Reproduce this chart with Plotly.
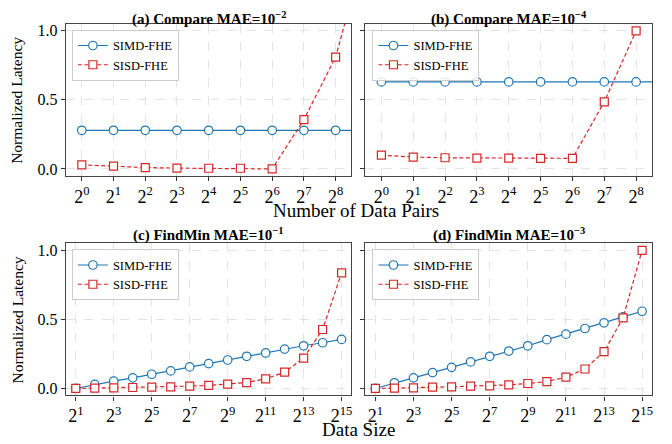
import plotly.graph_objects as go

# ---------------- data ----------------
pairs_exp = [0, 1, 2, 3, 4, 5, 6, 7, 8]
pairs_exp_ext = [0, 1, 2, 3, 4, 5, 6, 7, 8, 9]
a_simd = [0.28, 0.28, 0.28, 0.28, 0.28, 0.28, 0.28, 0.28, 0.28, 0.28]
a_sisd = [0.03, 0.02, 0.01, 0.006, 0.005, 0.005, 0.0, 0.357, 0.81, 1.65]
b_simd = [0.63, 0.63, 0.63, 0.63, 0.63, 0.63, 0.63, 0.63, 0.63, 0.63]
b_sisd = [0.10, 0.086, 0.081, 0.079, 0.079, 0.077, 0.077, 0.486, 1.0]

size_exp = list(range(1, 16))
c_simd = [0.0, 0.029, 0.053, 0.077, 0.103, 0.127, 0.156, 0.18, 0.206, 0.233,
          0.257, 0.285, 0.309, 0.331, 0.355]
c_sisd = [0.0, 0.002, 0.005, 0.007, 0.01, 0.012, 0.017, 0.022, 0.031, 0.043,
          0.07, 0.118, 0.22, 0.427, 0.837]
d_simd = [0.0, 0.041, 0.077, 0.115, 0.153, 0.192, 0.233, 0.271, 0.309, 0.353,
          0.393, 0.434, 0.475, 0.518, 0.559]
d_sisd = [0.0, 0.002, 0.005, 0.01, 0.012, 0.017, 0.019, 0.026, 0.036, 0.05,
          0.082, 0.141, 0.266, 0.511, 1.0]

titles = ["<b>(a) Compare MAE=10<sup>−2</sup></b>",
          "<b>(b) Compare MAE=10<sup>−4</sup></b>",
          "<b>(c) FindMin MAE=10<sup>−1</sup></b>",
          "<b>(d) FindMin MAE=10<sup>−3</sup></b>"]
series_names = ["SIMD-FHE", "SISD-FHE"]
y_tickvals = [0.0, 0.5, 1.0]
y_ticktext = ["0.0", "0.5", "1.0"]
pair_ticks = pairs_exp
size_ticks = [1, 3, 5, 7, 9, 11, 13, 15]

# ---------------- style ----------------
W, H = 672, 444
OFF = 8  # page body margin offset
FONT = "Liberation Serif"
BLUE = "#1f77b4"
RED = "#d62728"

def px_x(p):
    return (p - OFF) / W

def px_y(p):
    return 1 - (p - OFF) / H

x_doms = [[px_x(66), px_x(352)], [px_x(366), px_x(653)]]
y_doms = [[px_y(176), px_y(23)], [px_y(397), px_y(244)]]

panels = [
    dict(simd_x=pairs_exp_ext, simd=a_simd, sisd_x=pairs_exp_ext, sisd=a_sisd,
         ticks=pair_ticks, xr=[-0.5, 8.5], col=0, row=0),
    dict(simd_x=pairs_exp_ext, simd=b_simd, sisd_x=pairs_exp, sisd=b_sisd,
         ticks=pair_ticks, xr=[-0.5, 8.5], col=1, row=0),
    dict(simd_x=size_exp, simd=c_simd, sisd_x=size_exp, sisd=c_sisd,
         ticks=size_ticks, xr=[0.48, 15.52], col=0, row=1),
    dict(simd_x=size_exp, simd=d_simd, sisd_x=size_exp, sisd=d_sisd,
         ticks=size_ticks, xr=[0.48, 15.52], col=1, row=1),
]

fig = go.Figure()
layout = dict(width=W, height=H, margin=dict(l=0, r=0, t=0, b=0),
              paper_bgcolor="white", plot_bgcolor="white",
              font=dict(family=FONT, color="black"))
annotations = []

for i, p in enumerate(panels):
    n = i + 1
    xa = "x" if n == 1 else f"x{n}"
    ya = "y" if n == 1 else f"y{n}"
    lg = "legend" if n == 1 else f"legend{n}"
    fig.add_trace(go.Scatter(
        x=p["simd_x"], y=p["simd"], name=series_names[0], mode="lines+markers",
        xaxis=xa, yaxis=ya, legend=lg,
        line=dict(color=BLUE, width=1.2),
        marker=dict(symbol="circle", size=8.5, color="white",
                    line=dict(color=BLUE, width=1.2))))
    fig.add_trace(go.Scatter(
        x=p["sisd_x"], y=p["sisd"], name=series_names[1], mode="lines+markers",
        xaxis=xa, yaxis=ya, legend=lg,
        line=dict(color=RED, width=1.2, dash="4px,2.5px"),
        marker=dict(symbol="square", size=8, color="white",
                    line=dict(color=RED, width=1.2))))

    xkey = "xaxis" if n == 1 else f"xaxis{n}"
    ykey = "yaxis" if n == 1 else f"yaxis{n}"
    layout[xkey] = dict(
        domain=x_doms[p["col"]], anchor=ya, range=p["xr"],
        tickmode="array", tickvals=p["ticks"],
        ticktext=[f"2<sup>{t}</sup>" for t in p["ticks"]],
        tickfont=dict(size=18, family=FONT, color="black"),
        ticks="outside", ticklen=4, tickwidth=1, tickcolor="#333",
        showgrid=True, gridcolor="#e3e3e3", griddash="dash", gridwidth=0.8,
        showline=True, linecolor="#444", linewidth=1.4, mirror=True,
        zeroline=False)
    layout[ykey] = dict(
        domain=y_doms[p["row"]], anchor=xa, range=[-0.05, 1.05],
        tickmode="array", tickvals=y_tickvals,
        ticktext=y_ticktext if p["col"] == 0 else ["", "", ""],
        tickfont=dict(size=16, family=FONT, color="black"),
        ticks="outside", ticklen=4, tickwidth=1, tickcolor="#333",
        showgrid=True, gridcolor="#e3e3e3", griddash="dash", gridwidth=0.8,
        showline=True, linecolor="#444", linewidth=1.4, mirror=True,
        zeroline=False)
    lx = px_x(72) if p["col"] == 0 else px_x(373)
    ly = px_y(29) if p["row"] == 0 else px_y(250)
    layout[lg] = dict(
        x=lx, y=ly, xanchor="left", yanchor="top",
        bgcolor="rgba(255,255,255,0.85)", bordercolor="#cccccc", borderwidth=1,
        font=dict(size=12.5, family=FONT, color="black"),
        itemwidth=30, tracegroupgap=0)

    # panel title
    cx = (x_doms[p["col"]][0] + x_doms[p["col"]][1]) / 2
    ty = px_y(17.5) if p["row"] == 0 else px_y(235)
    annotations.append(dict(text=titles[i], x=cx, y=ty, xref="paper", yref="paper",
                            showarrow=False, xanchor="center", yanchor="middle",
                            font=dict(size=15, family=FONT, color="black")))
    if p["col"] == 0:
        cy = (y_doms[p["row"]][0] + y_doms[p["row"]][1]) / 2
        annotations.append(dict(text="Normalized Latency", x=px_x(17), y=cy,
                                xref="paper", yref="paper", showarrow=False,
                                textangle=-90, xanchor="center", yanchor="middle",
                                font=dict(size=15.5, family=FONT, color="black")))

annotations.append(dict(text="Number of Data Pairs", x=px_x(357), y=px_y(211),
                        xref="paper", yref="paper", showarrow=False,
                        xanchor="center", yanchor="middle",
                        font=dict(size=19, family=FONT, color="black")))
annotations.append(dict(text="Data Size", x=px_x(359), y=px_y(431),
                        xref="paper", yref="paper", showarrow=False,
                        xanchor="center", yanchor="middle",
                        font=dict(size=19, family=FONT, color="black")))
layout["annotations"] = annotations

fig.update_layout(**layout)
fig.write_html("out.html")
